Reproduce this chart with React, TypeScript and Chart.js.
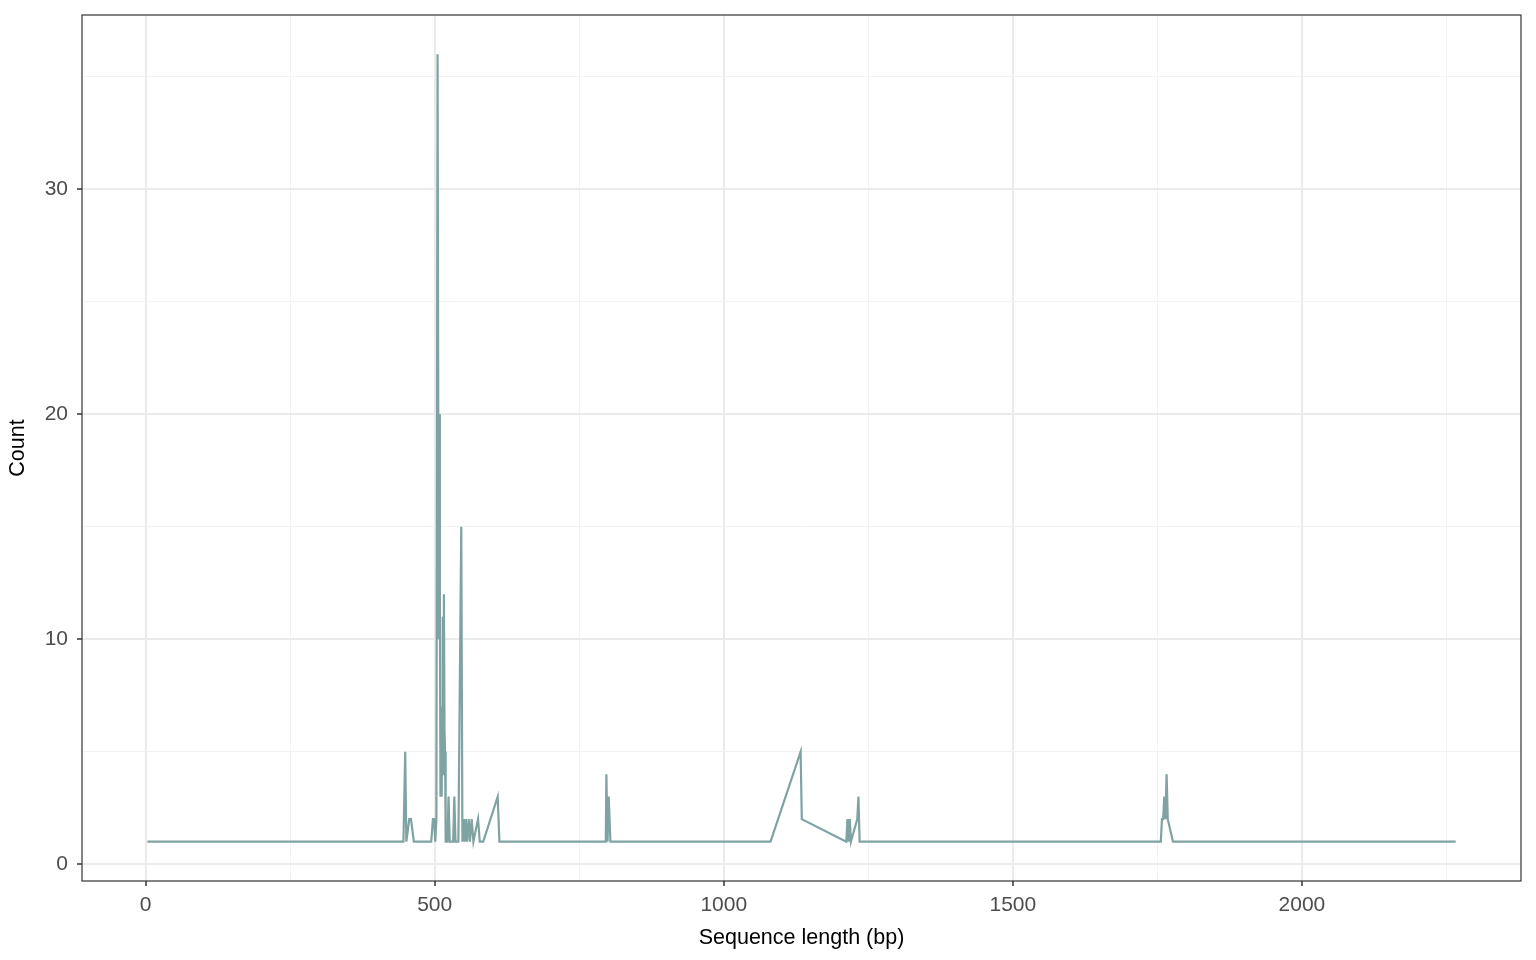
import React, { useEffect, useRef } from "react";
import { Chart, registerables } from "chart.js";

Chart.register(...registerables);

const lengths: number[] = [
  3, 446, 449, 451, 456, 459, 464, 494, 497, 499, 501, 503, 505, 507, 508, 509, 510, 511, 512, 513,
  514, 515, 516, 517, 518, 519, 522, 524, 526, 532, 534, 536, 541, 546, 548, 550, 552, 554, 556, 559,
  561, 564, 567, 575, 578, 584, 609, 612, 796, 797, 799, 801, 804, 1081, 1133, 1135, 1212, 1214, 1216, 1218,
  1220, 1231, 1233, 1235, 1756, 1758, 1760, 1762, 1764, 1766, 1768, 1777, 2266,
];
const counts: number[] = [
  1, 1, 5, 1, 2, 2, 1, 1, 2, 2, 1, 2, 36, 10, 20, 12, 3, 7, 3, 5,
  11, 4, 12, 6, 5, 1, 1, 3, 1, 1, 3, 1, 1, 15, 1, 2, 1, 2, 1, 2,
  1, 2, 1, 2, 1, 1, 3, 1, 1, 4, 1, 3, 1, 1, 5, 2, 1, 2, 1, 2,
  1, 2, 3, 1, 1, 2, 2, 3, 2, 4, 2, 1, 1,
];
const xTicks: number[] = [0, 250, 500, 750, 1000, 1250, 1500, 1750, 2000, 2250];
const yTicks: number[] = [0, 5, 10, 15, 20, 25, 30, 35];
const xLabelStep = 500;
const yLabelStep = 10;

const FONT = "'Liberation Sans', Arial, Helvetica, sans-serif";

export default function App() {
  const ref = useRef<HTMLCanvasElement | null>(null);
  useEffect(() => {
    if (!ref.current) return;
    const borderPlugin = {
      id: "panelBorder",
      afterDatasetsDraw(chart: any) {
        const { ctx, chartArea } = chart;
        ctx.save();
        ctx.strokeStyle = "#333333";
        ctx.lineWidth = 1.2;
        ctx.strokeRect(chartArea.left, chartArea.top, chartArea.right - chartArea.left, chartArea.bottom - chartArea.top);
        ctx.restore();
      },
    };
    const noPad = (s: any) => {
      s.paddingTop = 0;
      s.paddingBottom = 0;
      s.paddingLeft = 0;
      s.paddingRight = 0;
    };
    const chart = new Chart(ref.current, {
      type: "line",
      data: {
        datasets: [
          {
            data: lengths.map((x, i) => ({ x, y: counts[i] })),
            borderColor: "#7FA3A2",
            borderWidth: 2.2,
            pointRadius: 0,
            tension: 0,
            fill: false,
          },
        ],
      },
      options: {
        animation: false,
        responsive: false,
        maintainAspectRatio: false,
        layout: { padding: { top: 15, right: 15, left: 0, bottom: 0 } },
        plugins: { legend: { display: false }, tooltip: { enabled: false } },
        scales: {
          x: {
            type: "linear",
            min: -110,
            max: 2379,
            afterBuildTicks: (s: any) => {
              s.ticks = xTicks.map((v) => ({ value: v }));
            },
            afterFit: (s: any) => {
              s.height = 79;
              noPad(s);
            },
            ticks: {
              autoSkip: false,
              maxRotation: 0,
              padding: 7,
              color: "#4D4D4D",
              font: { family: FONT, size: 21 },
              callback: (v: any) => (Number(v) % xLabelStep === 0 ? String(v) : ""),
            },
            grid: {
              color: (c: any) => (c.tick && c.tick.value % xLabelStep === 0 ? "#EBEBEB" : "#F2F2F2"),
              lineWidth: (c: any) => (c.tick && c.tick.value % xLabelStep === 0 ? 2 : 1),
              tickColor: (c: any) => (c.tick && c.tick.value % xLabelStep === 0 ? "#333333" : "rgba(0,0,0,0)"),
              tickLength: 5,
              tickWidth: 1.5,
            },
            border: { display: false },
            title: {
              display: true,
              text: "Sequence length (bp)",
              color: "#000000",
              font: { family: FONT, size: 21.5 },
              padding: { top: 0, bottom: 9 },
            },
          },
          y: {
            type: "linear",
            min: -0.75,
            max: 37.75,
            afterBuildTicks: (s: any) => {
              s.ticks = yTicks.map((v) => ({ value: v }));
            },
            afterFit: (s: any) => {
              s.width = 82;
              noPad(s);
            },
            ticks: {
              autoSkip: false,
              padding: 9,
              color: "#4D4D4D",
              font: { family: FONT, size: 21 },
              callback: (v: any) => (Number(v) % yLabelStep === 0 ? String(v) : ""),
            },
            grid: {
              color: (c: any) => (c.tick && c.tick.value % yLabelStep === 0 ? "#EBEBEB" : "#F2F2F2"),
              lineWidth: (c: any) => (c.tick && c.tick.value % yLabelStep === 0 ? 2 : 1),
              tickColor: (c: any) => (c.tick && c.tick.value % yLabelStep === 0 ? "#333333" : "rgba(0,0,0,0)"),
              tickLength: 5,
              tickWidth: 1.5,
            },
            border: { display: false },
            title: {
              display: true,
              text: "Count",
              color: "#000000",
              font: { family: FONT, size: 21.5 },
              padding: { top: 5, bottom: 5 },
            },
          },
        },
      },
      plugins: [borderPlugin],
    });
    return () => chart.destroy();
  }, []);
  return (
    <div style={{ position: "absolute", left: 0, top: 0, width: 1536, height: 960, background: "#FFFFFF" }}>
      <canvas ref={ref} width={1536} height={960} style={{ display: "block", width: 1536, height: 960 }} />
    </div>
  );
}
